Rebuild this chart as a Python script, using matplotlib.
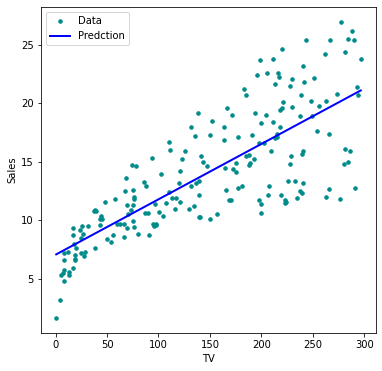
import matplotlib
matplotlib.use("Agg")
import matplotlib.pyplot as plt

tv = [230.1, 44.5, 17.2, 151.5, 180.8, 8.7, 57.5, 120.2, 8.6, 199.8, 66.1, 214.7, 23.8, 97.5, 204.1, 195.4, 67.8, 281.4, 69.2, 147.3,
      218.4, 237.4, 13.2, 228.3, 62.3, 262.9, 142.9, 240.1, 248.8, 70.6, 292.9, 112.9, 97.2, 265.6, 95.7, 290.7, 266.9, 74.7, 43.1, 228.0,
      202.5, 177.0, 293.6, 206.9, 25.1, 175.1, 89.7, 239.9, 227.2, 66.9, 199.8, 100.4, 216.4, 182.6, 262.7, 198.9, 7.3, 136.2, 210.8, 210.7,
      53.5, 261.3, 239.3, 102.7, 131.1, 69.0, 31.5, 139.3, 237.4, 216.8, 199.1, 109.8, 26.8, 129.4, 213.4, 16.9, 27.5, 120.5, 5.4, 116.0,
      76.4, 239.8, 75.3, 68.4, 213.5, 193.2, 76.3, 110.7, 88.3, 109.8, 134.3, 28.6, 217.7, 250.9, 107.4, 163.3, 197.6, 184.9, 289.7, 135.2,
      222.4, 296.4, 280.2, 187.9, 238.2, 137.9, 25.0, 90.4, 13.1, 255.4, 225.8, 241.7, 175.7, 209.6, 78.2, 75.1, 139.2, 76.4, 125.7, 19.4,
      141.3, 18.8, 224.0, 123.1, 229.5, 87.2, 7.8, 80.2, 220.3, 59.6, 0.7, 265.2, 8.4, 219.8, 36.9, 48.3, 25.6, 273.7, 43.0, 184.9,
      73.4, 193.7, 220.5, 104.6, 96.2, 140.3, 240.1, 243.2, 38.0, 44.7, 280.7, 121.0, 197.6, 171.3, 187.8, 4.1, 93.9, 149.8, 11.7, 131.7,
      172.5, 85.7, 188.4, 163.5, 117.2, 234.5, 17.9, 206.8, 215.4, 284.3, 50.0, 164.5, 19.6, 168.4, 222.4, 276.9, 248.4, 170.2, 276.7, 165.6,
      156.6, 218.5, 56.2, 287.6, 253.8, 205.0, 139.5, 191.1, 286.0, 18.7, 39.5, 75.5, 17.2, 166.8, 149.7, 38.2, 94.2, 177.0, 283.6, 232.1]

sales = [22.1, 10.4, 9.3, 18.5, 12.9, 7.2, 11.8, 13.2, 4.8, 10.6, 8.6, 17.4, 9.2, 9.7, 19.0, 22.4, 12.5, 24.4, 11.3, 14.6,
         18.0, 12.5, 5.6, 15.5, 9.7, 12.0, 15.0, 15.9, 18.9, 10.5, 21.4, 11.9, 9.6, 17.4, 9.5, 12.8, 25.4, 14.7, 10.1, 21.5,
         16.6, 17.1, 20.7, 12.9, 8.5, 14.9, 10.6, 23.2, 14.8, 9.7, 11.4, 10.7, 22.6, 21.2, 20.2, 23.7, 5.5, 13.2, 23.8, 18.4,
         8.1, 24.2, 15.7, 14.0, 18.0, 9.3, 9.5, 13.4, 18.9, 22.3, 18.3, 12.4, 8.8, 11.0, 17.0, 8.7, 6.9, 14.2, 5.3, 11.0,
         11.8, 12.3, 11.3, 13.6, 21.7, 15.2, 12.0, 16.0, 12.9, 16.7, 11.2, 7.3, 19.4, 22.2, 11.5, 16.9, 11.7, 15.5, 25.4, 17.2,
         11.7, 23.8, 14.8, 14.7, 20.7, 19.2, 7.2, 8.7, 5.3, 19.8, 13.4, 21.8, 14.1, 15.9, 14.6, 12.6, 12.2, 9.4, 15.9, 6.6,
         15.5, 7.0, 11.6, 15.2, 19.7, 10.6, 6.6, 8.8, 24.7, 9.7, 1.6, 12.7, 5.7, 19.6, 10.8, 11.6, 9.5, 20.8, 9.6, 20.7,
         10.9, 19.2, 20.1, 10.4, 11.4, 10.3, 13.2, 25.4, 10.9, 10.1, 16.1, 11.6, 16.6, 19.0, 15.6, 3.2, 15.3, 10.1, 7.3, 12.9,
         14.4, 13.3, 14.9, 18.0, 11.9, 11.9, 8.0, 12.2, 17.1, 15.0, 8.4, 14.5, 7.6, 11.7, 11.5, 27.0, 20.2, 11.7, 11.8, 12.6,
         10.5, 12.2, 8.7, 26.2, 17.6, 22.6, 10.3, 17.3, 15.9, 6.7, 10.8, 9.9, 5.9, 19.6, 17.3, 7.6, 9.7, 12.8, 25.5, 13.4]

pred_tv = [0.7, 296.4]
pred_sales = [7.07, 21.12]

fig = plt.figure(figsize=(382 / 72, 371 / 72), dpi=72)
ax = fig.add_axes([41 / 382, 38 / 371, 335 / 382, 326 / 371])
ax.plot(tv, sales, '.', color='#008b8b', markersize=7, label='Data')
ax.plot(pred_tv, pred_sales, color='blue', linewidth=2, label='Predction')
ax.set_xlabel('TV')
ax.set_ylabel('Sales')
ax.set_xticks([0, 50, 100, 150, 200, 250, 300])
ax.set_yticks([5, 10, 15, 20, 25])
ax.legend(loc='upper left')
fig.savefig('out.png', dpi=72)
